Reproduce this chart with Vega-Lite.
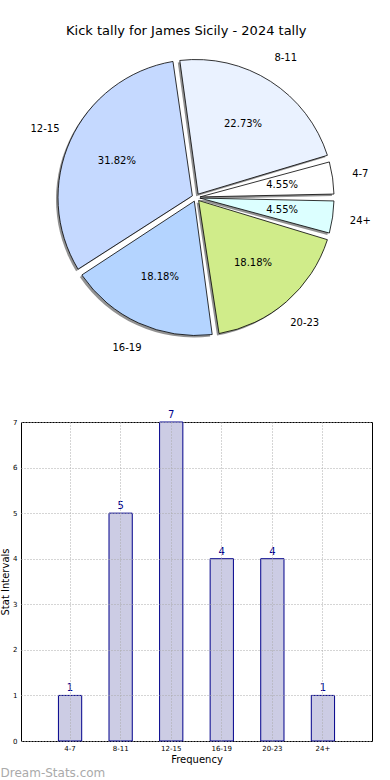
{
  "$schema": "https://vega.github.io/schema/vega-lite/v6.json",
  "padding": {"top": 25, "left": 0, "right": 0, "bottom": 0},
  "spacing": 55,
  "config": {
    "font": "DejaVu Sans",
    "view": {"stroke": null},
    "axis": {"titleFontWeight": "normal", "titleColor": "#000", "labelColor": "#000"}
  },
  "title": {"text": "Kick tally for James Sicily - 2024 tally", "fontSize": 13, "fontWeight": "normal", "offset": 7, "anchor": "middle", "color": "#000"},
  "datasets": {
    "kicks": [
      {"range": "4-7", "count": 1, "pct": "4.55%", "order": 1},
      {"range": "8-11", "count": 5, "pct": "22.73%", "order": 2},
      {"range": "12-15", "count": 7, "pct": "31.82%", "order": 3},
      {"range": "16-19", "count": 4, "pct": "18.18%", "order": 4},
      {"range": "20-23", "count": 4, "pct": "18.18%", "order": 5},
      {"range": "24+", "count": 1, "pct": "4.55%", "order": 6}
    ]
  },
  "vconcat": [
    {
      "width": 350,
      "height": 305,
      "data": {"name": "kicks"},
      "encoding": {
        "theta": {"field": "count", "type": "quantitative", "stack": true, "scale": {"range": [1.5708, -4.7124]}},
        "order": {"field": "order", "type": "quantitative"}
      },
      "layer": [
        {"mark": {"type": "arc", "outerRadius": 138, "innerRadius": 4, "padAngle": 0.05, "fill": "#777777", "opacity": 0.8, "xOffset": -2, "yOffset": 2}},
        {
          "mark": {"type": "arc", "outerRadius": 138, "innerRadius": 4, "padAngle": 0.05, "stroke": "#000000", "strokeWidth": 0.8},
          "encoding": {
            "fill": {"field": "range", "type": "nominal", "legend": null,
              "scale": {"domain": ["4-7", "8-11", "12-15", "16-19", "20-23", "24+"],
                        "range": ["#ffffff", "#eaf2ff", "#c5d9ff", "#b4d4ff", "#d0ec8a", "#dcffff"]}}
          }
        },
        {"mark": {"type": "text", "radius": 87, "fontSize": 10, "color": "#000"}, "encoding": {"text": {"field": "pct", "type": "nominal"}}},
        {"mark": {"type": "text", "radius": 166, "fontSize": 10, "color": "#000"}, "encoding": {"text": {"field": "range", "type": "nominal"}}}
      ]
    },
    {
      "width": 351,
      "height": 319,
      "view": {"stroke": "#000000", "strokeWidth": 1},
      "data": {"name": "kicks"},
      "title": {"text": "Dream-Stats.com", "orient": "bottom", "anchor": "start", "frame": "bounds", "color": "#aaaaaa", "fontSize": 12, "fontWeight": "normal", "offset": 4},
      "encoding": {
        "x": {"field": "range", "type": "nominal", "sort": null,
          "scale": {"paddingInner": 0.54, "paddingOuter": 0.74},
          "axis": {"title": "Frequency", "titleFontSize": 10, "titlePadding": 3, "labelFontSize": 7, "labelAngle": 0, "labelPadding": 3, "ticks": false, "domain": false, "grid": true, "gridDash": [1, 2], "gridColor": "#aaaaaa", "zindex": 1}},
        "y": {"field": "count", "type": "quantitative",
          "scale": {"domain": [0, 7], "nice": false},
          "axis": {"title": "Stat Intervals", "titleFontSize": 10, "titlePadding": 2, "labelFontSize": 7, "labelPadding": 4, "ticks": false, "domain": false, "values": [0, 1, 2, 3, 4, 5, 6, 7], "grid": true, "gridDash": [1, 2], "gridColor": "#aaaaaa", "zindex": 1}}
      },
      "layer": [
        {"mark": {"type": "bar", "fill": "#ccccE4", "stroke": "#00008b", "strokeWidth": 1}},
        {"mark": {"type": "text", "dy": -2, "baseline": "bottom", "fontSize": 10, "color": "#00008b"}, "encoding": {"text": {"field": "count", "type": "quantitative"}}}
      ]
    }
  ]
}
